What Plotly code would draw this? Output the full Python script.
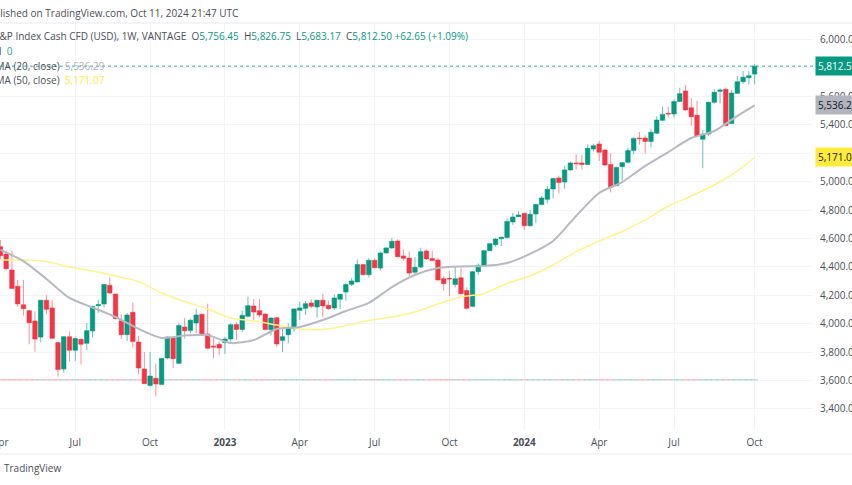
import pandas as pd
import plotly.graph_objects as go

# weekly bars
dates = pd.date_range("2022-04-04", periods=132, freq="7D")
opens = [4542, 4490, 4378, 4263, 4134, 4092, 4019, 3906, 4165, 4111, 3867, 3681, 3909, 3813, 3890, 3862, 3949, 4127, 4139, 4270, 4209, 4021,
         3923, 4080, 3871, 3681, 3566, 3616, 3573, 3759, 3902, 3721, 3977, 3953, 4005, 4066, 3928, 3843, 3855, 3867, 3892, 3995, 3960, 4052,
         4125, 4092, 4068, 3958, 4042, 3881, 3923, 3965, 4094, 4108, 4146, 4118, 4165, 4129, 4111, 4172, 4223, 4277, 4294, 4416, 4345, 4446,
         4392, 4498, 4533, 4582, 4477, 4462, 4362, 4399, 4512, 4458, 4448, 4317, 4319, 4275, 4324, 4233, 4122, 4366, 4411, 4514, 4556, 4598,
         4606, 4716, 4753, 4777, 4690, 4772, 4838, 4875, 4948, 5025, 4997, 5082, 5131, 5131, 5121, 5229, 5265, 5222, 5121, 4971, 5105,
         5136, 5218, 5307, 5307, 5283, 5340, 5431, 5480, 5476, 5563, 5638, 5520, 5466, 5298, 5335, 5558, 5635, 5649, 5408, 5621, 5703, 5731, 5756.45]
highs = [4589, 4514, 4514, 4308, 4308, 4096, 4089, 4167, 4200, 4165, 3874, 3911, 3946, 3909, 3897, 4005, 4127, 4167, 4279, 4324, 4211, 4066,
         4075, 4150, 3914, 3801, 3801, 3719, 3759, 3911, 3906, 4003, 4042, 4035, 4103, 4071, 4141, 3909, 3874, 3909, 4003, 4010, 4092, 4190,
         4174, 4172, 4073, 4045, 4045, 3968, 4003, 4106, 4155, 4158, 4172, 4167, 4209, 4162, 4207, 4209, 4289, 4322, 4453, 4420, 4462, 4458,
         4507, 4538, 4603, 4594, 4523, 4509, 4470, 4535, 4523, 4514, 4465, 4336, 4369, 4404, 4394, 4256, 4371, 4425, 4519, 4568, 4601, 4613,
         4742, 4781, 4793, 4781, 4798, 4842, 4899, 4969, 5025, 5042, 5112, 5140, 5192, 5187, 5262, 5267, 5286, 5229, 5199, 5105, 5138,
         5239, 5311, 5349, 5326, 5373, 5459, 5527, 5527, 5579, 5661, 5680, 5588, 5570, 5363, 5562, 5652, 5656, 5661, 5645, 5743, 5778, 5778, 5826.75]
lows = [4455, 4378, 4244, 4120, 4057, 3855, 3803, 3869, 4068, 3892, 3627, 3655, 3733, 3738, 3714, 3813, 3904, 4075, 4111, 4211, 4031, 3892,
        3878, 3834, 3644, 3578, 3557, 3491, 3571, 3749, 3688, 3716, 3895, 3932, 3932, 3914, 3820, 3756, 3780, 3787, 3867, 3885, 3942, 4045,
        4026, 4045, 3951, 3918, 3838, 3801, 3862, 3944, 4026, 4061, 4108, 4043, 4045, 4097, 4097, 4104, 4162, 4265, 4291, 4340, 4324, 4390,
        4373, 4495, 4528, 4467, 4444, 4331, 4343, 4392, 4448, 4439, 4303, 4233, 4195, 4256, 4207, 4097, 4118, 4343, 4406, 4512, 4542, 4547,
        4598, 4695, 4751, 4659, 4681, 4709, 4835, 4845, 4882, 4917, 4950, 5077, 5086, 5086, 5117, 5211, 5145, 5110, 4924, 4969, 5009,
        5129, 5192, 5260, 5197, 5241, 5335, 5426, 5452, 5452, 5560, 5499, 5394, 5311, 5093, 5321, 5548, 5551, 5389, 5405, 5616, 5687, 5684, 5683.17]
closes = [4479, 4387, 4247, 4139, 4106, 4007, 3892, 4165, 4101, 3897, 3677, 3909, 3813, 3895, 3855, 3951, 4122, 4134, 4275, 4216, 4035, 3923,
          4061, 3874, 3688, 3578, 3632, 3576, 3756, 3906, 3754, 3988, 3951, 4024, 4061, 3921, 3827, 3836, 3829, 3892, 3993, 3960, 4059, 4127,
          4082, 4061, 3960, 4040, 3857, 3909, 3970, 4104, 4111, 4141, 4122, 4165, 4125, 4106, 4181, 4207, 4275, 4301, 4416, 4345, 4446, 4394,
          4498, 4533, 4580, 4472, 4460, 4357, 4397, 4507, 4456, 4444, 4308, 4282, 4315, 4317, 4211, 4108, 4366, 4411, 4514, 4563, 4596, 4608,
          4720, 4751, 4765, 4690, 4770, 4838, 4885, 4946, 5021, 4993, 5082, 5131, 5126, 5121, 5234, 5253, 5206, 5117, 4960, 5100, 5133,
          5218, 5304, 5302, 5283, 5347, 5433, 5473, 5476, 5563, 5619, 5504, 5457, 5321, 5335, 5558, 5628, 5645, 5394, 5623, 5703, 5734, 5745, 5812.50]

# moving averages, read every fourth week plus the last bar
ma_dates = list(dates[::4]) + [dates[-1]]
sma20 = [4519, 4441, 4315, 4181, 4114, 4047, 3963, 3900, 3917, 3921, 3864, 3885, 3963, 3977, 4026, 4089, 4146,
         4258, 4343, 4392, 4403, 4406, 4427, 4491, 4582, 4758, 4920, 4997, 5110, 5208, 5307, 5356, 5462, 5536.29]
sma50 = [4448, 4448, 4438, 4399, 4371, 4336, 4297, 4216, 4156, 4104, 4040, 4019, 3991, 3963, 3959, 3987, 4023,
         4047, 4082, 4139, 4188, 4213, 4283, 4336, 4413, 4505, 4582, 4649, 4730, 4828, 4899, 4976, 5075, 5171.07]

last_close = 5812.50
vol_base = 3605

price_ticks = list(range(3400, 6001, 200))
price_labels = [f"{p:,.2f}" for p in price_ticks]
time_ticks = ["2022-04-04", "2022-07-04", "2022-10-03", "2023-01-02", "2023-04-03", "2023-07-03",
              "2023-10-02", "2024-01-01", "2024-04-01", "2024-07-01", "2024-10-07"]
time_labels = ["", "Jul", "Oct", "<b>2023</b>", "Apr", "Jul", "Oct", "<b>2024</b>", "Apr", "Jul", "Oct"]

GREEN = "#089981"
RED = "#F23645"
GRID = "#f2f4f9"
FONT = "Open Sans"
TEXT = "#4c4f59"
W_PLOT = 813

fig = go.Figure()

# zero volume shows up as little dashes coloured by bar direction
vol_colors = ["rgba(8,153,129,0.4)" if c >= o else "rgba(242,54,69,0.4)" for o, c in zip(opens, closes)]
fig.add_trace(go.Scatter(x=dates, y=[vol_base] * len(dates), mode="markers",
                         marker=dict(symbol="line-ew", size=4.5, line=dict(width=1, color=vol_colors))))

fig.add_trace(go.Scatter(x=ma_dates, y=sma50, mode="lines", line=dict(color="#fff38a", width=1.5, shape="spline", smoothing=0.7)))
fig.add_trace(go.Scatter(x=ma_dates, y=sma20, mode="lines", line=dict(color="#b7b9c3", width=2, shape="spline", smoothing=0.7)))

fig.add_trace(go.Candlestick(
    x=dates, open=opens, high=highs, low=lows, close=closes,
    whiskerwidth=0,
    increasing=dict(line=dict(color="rgba(8,153,129,0.6)", width=1), fillcolor=GREEN),
    decreasing=dict(line=dict(color="rgba(242,54,69,0.55)", width=1), fillcolor=RED),
))

fig.add_hline(y=last_close, line=dict(color=GREEN, width=1, dash="dot"), opacity=0.8)

# header and legend lines, cut off on the left like the crop
header = [
    (-20, 13, "Published on TradingView.com, Oct 11, 2024 21:47 UTC"),
    (-8.5, 36, f"S&P Index Cash CFD (USD), 1W, VANTAGE  O<span style='color:{GREEN}'>5,756.45</span>  "
               f"H<span style='color:{GREEN}'>5,826.75</span>  L<span style='color:{GREEN}'>5,683.17</span>  "
               f"C<span style='color:{GREEN}'>5,812.50 +62.65 (+1.09%)</span>"),
    (-15, 51, "Vol  <span style='color:#26a69a'>0</span>"),
    (-12, 66, "SMA (20, close)  <span style='color:#b2b5be'>5,536.29</span>"),
    (-12, 80, "SMA (50, close)  <span style='color:#ffeb3b'>5,171.07</span>"),
]
for x, y, txt in header:
    fig.add_annotation(x=x / W_PLOT, y=1 - (y - 23) / 407, xref="paper", yref="paper", text=txt, showarrow=False,
                       xanchor="left", yanchor="middle", font=dict(family=FONT, size=10, color=TEXT))

fig.add_annotation(x=2 / W_PLOT, y=1 - (468 - 23) / 407, xref="paper", yref="paper", text="TradingView",
                   showarrow=False, xanchor="left", yanchor="middle", font=dict(family=FONT, size=10, color=TEXT))

# first month label sits half outside, plotly would drop it as a tick label
fig.add_annotation(x="2022-04-04", y=1 - (442 - 23) / 407, xref="x", yref="paper", text="Apr",
                   showarrow=False, xanchor="center", yanchor="middle", font=dict(family=FONT, size=10, color=TEXT))

# price tags on the right
tags = [(5812.50, "5,812.50", GREEN, "white"), (5536.29, "5,536.29", "#b2b5be", "#131722"),
        (5171.07, "5,171.07", "#ffeb3b", "#131722")]
for y, txt, bg, col in tags:
    fig.add_annotation(x=815 / W_PLOT, y=y, xref="paper", yref="y", text=txt, showarrow=False, xanchor="left",
                       yanchor="middle", bgcolor=bg, borderpad=2, font=dict(family=FONT, size=10, color=col))

# frame lines above and below the chart
for y in (1, 1 - (454 - 23) / 407):
    fig.add_shape(type="line", xref="paper", yref="paper", x0=0, x1=852 / W_PLOT, y0=y, y1=y,
                  line=dict(color="#e6e9f0", width=1))

fig.update_layout(
    width=852, height=485,
    margin=dict(l=0, r=39, t=23, b=55),
    paper_bgcolor="white", plot_bgcolor="white",
    showlegend=False,
    boxgap=0.22, boxgroupgap=0,
    font=dict(family=FONT, size=10, color=TEXT),
)
fig.update_xaxes(range=["2022-04-03 12:00", "2024-12-17"], rangeslider_visible=False, automargin=False,
                 tickmode="array", tickvals=time_ticks, ticktext=time_labels,
                 showgrid=True, gridcolor=GRID, gridwidth=1, zeroline=False, showline=False, ticks="",
                 ticklabelstandoff=5, tickfont=dict(family=FONT, size=10, color=TEXT))
fig.update_yaxes(range=[3252, 6116], side="right", automargin=False,
                 tickmode="array", tickvals=price_ticks, ticktext=price_labels,
                 showgrid=True, gridcolor=GRID, gridwidth=1, zeroline=False, showline=False, ticks="",
                 ticklabelstandoff=6, tickfont=dict(family=FONT, size=10, color=TEXT))

fig.write_html("out.html", post_script="document.body.style.margin='0';", config=dict(displayModeBar=False))
